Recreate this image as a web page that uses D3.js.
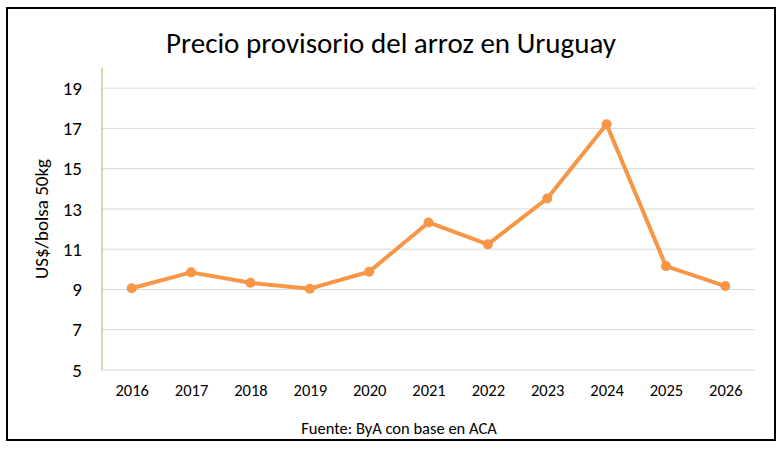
<!DOCTYPE html>
<html>
<head>
<meta charset="utf-8">
<script src="https://cdn.jsdelivr.net/npm/d3@7"></script>
<style>
  body { margin: 0; background: #fff; }
  svg text { font-family: Carlito, Calibri, Lato, "Open Sans", sans-serif; fill: #000; }
</style>
</head>
<body>
<div id="chart"></div>
<script>
// the years shown on the x axis
const years = ["2016", "2017", "2018", "2019", "2020", "2021", "2022", "2023", "2024", "2025", "2026"]
// provisional price, US$ per 50kg bag
const prices = [9.06, 9.85, 9.33, 9.04, 9.88, 12.33, 11.24, 13.52, 17.2, 10.16, 9.17]
// y axis ticks
const yTicks = [5, 7, 9, 11, 13, 15, 17, 19]

const width = 782
const height = 450
const margin = {top: 68, right: 27, bottom: 80, left: 102}

const svg = d3.select("#chart")
    .append("svg")
    .attr("width", width)
    .attr("height", height)

// outer frame
svg.append("rect")
    .attr("x", 7)
    .attr("y", 8)
    .attr("width", 768)
    .attr("height", 432)
    .attr("fill", "none")
    .attr("stroke", "#000")
    .attr("stroke-width", 2)

// scales
const x = d3.scalePoint()
    .domain(years)
    .range([margin.left, width - margin.right])
    .padding(0.5)

const y = d3.scaleLinear()
    .domain([5, 20])
    .range([height - margin.bottom, margin.top])

// gridlines
svg.append("g")
    .selectAll("line")
    .data(yTicks.slice(1))
    .join("line")
    .attr("x1", margin.left)
    .attr("x2", width - margin.right)
    .attr("y1", d => y(d))
    .attr("y2", d => y(d))
    .attr("stroke", "#d9d9d9")
    .attr("stroke-width", 1)

// bottom axis line
svg.append("line")
    .attr("x1", margin.left)
    .attr("x2", width - margin.right)
    .attr("y1", y(5))
    .attr("y2", y(5))
    .attr("stroke", "#d9d9d9")

// y axis (greenish line, no ticks)
const yAxis = svg.append("g")
    .attr("transform", `translate(${margin.left},0)`)
    .call(d3.axisLeft(y).tickValues(yTicks).tickSize(0).tickPadding(20))
yAxis.select(".domain").attr("stroke", "#9bbb59").attr("d", `M0,${y(5)}V${margin.top}`)
yAxis.selectAll("text")
    .style("font-size", "19px")
    .style("font-family", "Carlito, Calibri, Lato, 'Open Sans', sans-serif")

// x axis labels
const xAxis = svg.append("g")
    .attr("transform", `translate(0,${y(5)})`)
    .call(d3.axisBottom(x).tickSize(0).tickPadding(14))
xAxis.select(".domain").remove()
xAxis.selectAll("text")
    .style("font-size", "16.5px")
    .style("font-family", "Carlito, Calibri, Lato, 'Open Sans', sans-serif")

// line
const line = d3.line()
    .x((d, i) => x(years[i]))
    .y(d => y(d))

svg.append("path")
    .datum(prices)
    .attr("d", line)
    .attr("fill", "none")
    .attr("stroke", "#f79646")
    .attr("stroke-width", 4)
    .attr("stroke-linejoin", "round")

svg.append("g")
    .selectAll("circle")
    .data(prices)
    .join("circle")
    .attr("cx", (d, i) => x(years[i]))
    .attr("cy", d => y(d))
    .attr("r", 5)
    .attr("fill", "#f79646")

// title
svg.append("text")
    .attr("x", 391)
    .attr("y", 53)
    .attr("text-anchor", "middle")
    .style("font-size", "29px")
    .text("Precio provisorio del arroz en Uruguay")

// y axis title
svg.append("text")
    .attr("transform", "translate(48,219) rotate(-90)")
    .attr("text-anchor", "middle")
    .style("font-size", "19px")
    .text("US$/bolsa 50kg")

// source
svg.append("text")
    .attr("x", 399)
    .attr("y", 434)
    .attr("text-anchor", "middle")
    .style("font-size", "16.5px")
    .text("Fuente: ByA con base en ACA")
</script>
</body>
</html>
